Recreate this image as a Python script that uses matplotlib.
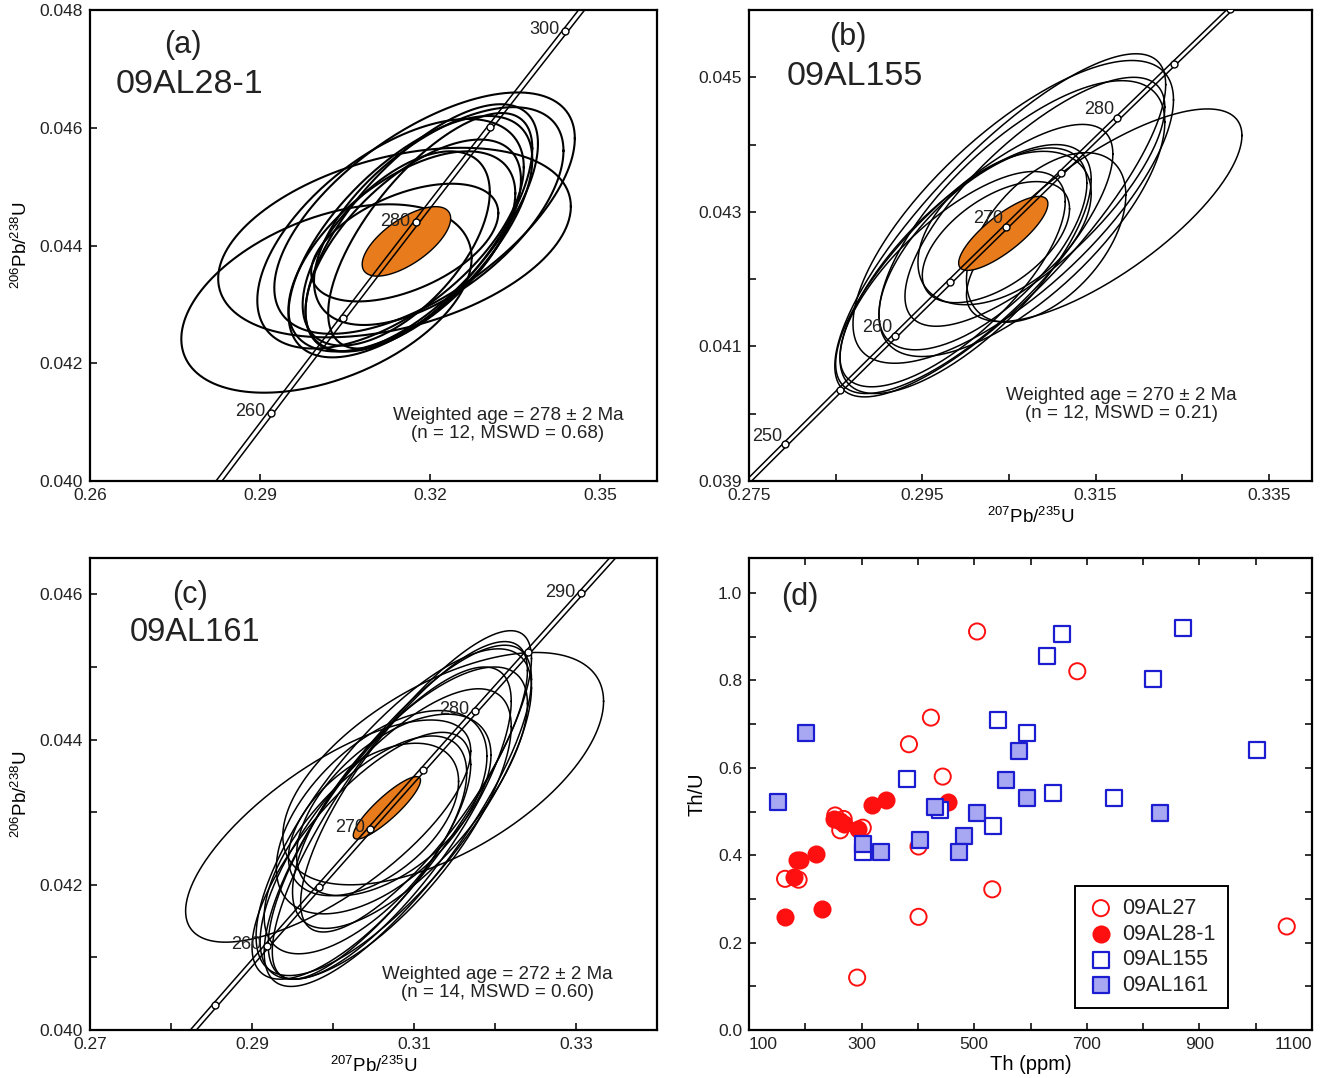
import matplotlib
matplotlib.use('Agg')
import matplotlib.pyplot as plt
import matplotlib.transforms as mtransforms
import numpy as np

plt.rcParams['font.family'] = ['Liberation Sans', 'DejaVu Sans']
plt.rcParams['mathtext.default'] = 'regular'
plt.rcParams['text.color'] = '#222222'
plt.rcParams['xtick.color'] = '#222222'
plt.rcParams['ytick.color'] = '#222222'

# 衰変定数 (1/yr)
LAMBDA_238 = 1.55125e-10
LAMBDA_235 = 9.8485e-10

# --- (a) 09AL28-1 ---  中心, x半幅, y半幅, 相関係数
a_x = [0.3017, 0.3137, 0.3190, 0.3130, 0.3165, 0.3185, 0.3170, 0.3200, 0.3150, 0.3215, 0.3140, 0.3155]
a_y = [0.04310, 0.04405, 0.04455, 0.04420, 0.04415, 0.04430, 0.04400, 0.04425, 0.04390, 0.04450, 0.04395, 0.04405]
a_sx = [0.0256, 0.0311, 0.0265, 0.0235, 0.0215, 0.0205, 0.0190, 0.0180, 0.0200, 0.0220, 0.0165, 0.0165]
a_sy = [0.00160, 0.00161, 0.00205, 0.00195, 0.00205, 0.00210, 0.00180, 0.00200, 0.00170, 0.00185, 0.00165, 0.00100]
a_rho = [0.43, 0.38, 0.62, 0.58, 0.64, 0.68, 0.62, 0.70, 0.58, 0.60, 0.58, 0.50]
a_mean = (0.3158, 0.04407, 0.0078, 0.00059, 0.66)

# --- (b) 09AL155 ---
b_x = [0.3160, 0.3040, 0.3055, 0.3065, 0.3010, 0.3000, 0.3093, 0.3020, 0.3045, 0.3080, 0.2985, 0.3035]
b_y = [0.04295, 0.04280, 0.04300, 0.04290, 0.04230, 0.04215, 0.04262, 0.04245, 0.04276, 0.04315, 0.04200, 0.04255]
b_sx = [0.0159, 0.0191, 0.0185, 0.0165, 0.0160, 0.0145, 0.0092, 0.0120, 0.0100, 0.0150, 0.0130, 0.0085]
b_sy = [0.00158, 0.00255, 0.00225, 0.00205, 0.00200, 0.00185, 0.00126, 0.00150, 0.00114, 0.00185, 0.00160, 0.00090]
b_rho = [0.75, 0.82, 0.74, 0.70, 0.78, 0.72, 0.50, 0.65, 0.45, 0.76, 0.72, 0.55]
b_mean = (0.30435, 0.04268, 0.00515, 0.00055, 0.80)

# --- (c) 09AL161 ---
c_x = [0.3136, 0.2994, 0.3080, 0.3075, 0.3085, 0.3070, 0.3060, 0.3050, 0.3095, 0.3065, 0.3100, 0.3040, 0.3075, 0.3035]
c_y = [0.04360, 0.04274, 0.04295, 0.04300, 0.04310, 0.04285, 0.04300, 0.04290, 0.04320, 0.04270, 0.04335, 0.04255, 0.04310, 0.04240]
c_sx = [0.0198, 0.0176, 0.0165, 0.0170, 0.0160, 0.0150, 0.0130, 0.0105, 0.0145, 0.0155, 0.0140, 0.0125, 0.0120, 0.0135]
c_sy = [0.00160, 0.00153, 0.00235, 0.00225, 0.00240, 0.00215, 0.00140, 0.00105, 0.00180, 0.00200, 0.00200, 0.00150, 0.00125, 0.00170]
c_rho = [0.58, 0.72, 0.80, 0.76, 0.84, 0.78, 0.55, 0.50, 0.72, 0.74, 0.80, 0.66, 0.55, 0.74]
c_mean = (0.30665, 0.04306, 0.00415, 0.00043, 0.88)

# --- (d) Th vs Th/U ---
th_27 = [505, 683, 423, 384, 444, 253, 268, 262, 302, 164, 188, 401, 401, 292, 532, 1055]
thu_27 = [0.912, 0.821, 0.715, 0.654, 0.580, 0.491, 0.483, 0.457, 0.463, 0.346, 0.344, 0.420, 0.259, 0.120, 0.322, 0.237]
th_28 = [164, 229, 219, 185, 191, 179, 250, 262, 269, 294, 318, 343, 453]
thu_28 = [0.259, 0.278, 0.403, 0.388, 0.388, 0.350, 0.483, 0.478, 0.472, 0.460, 0.516, 0.527, 0.521]
th_155 = [871, 655, 629, 817, 543, 593, 1002, 381, 640, 749, 534, 439, 302]
thu_155 = [0.920, 0.906, 0.855, 0.803, 0.710, 0.680, 0.641, 0.575, 0.542, 0.532, 0.466, 0.504, 0.407]
th_161 = [201, 152, 580, 556, 593, 830, 302, 334, 403, 430, 504, 482, 473]
thu_161 = [0.680, 0.521, 0.638, 0.573, 0.532, 0.497, 0.425, 0.407, 0.434, 0.511, 0.497, 0.445, 0.407]

ORANGE = '#E87B1B'
RED = '#FF1010'
BLUE = '#1C1CD0'
LIGHT_BLUE = '#A8A8F2'


def concordia(t_ma):
    t = np.asarray(t_ma, dtype=float) * 1e6
    return np.exp(LAMBDA_235 * t) - 1, np.exp(LAMBDA_238 * t) - 1


def ellipse_xy(cx, cy, sx, sy, rho, n=300):
    t = np.linspace(0, 2 * np.pi, n)
    x = cx + sx * np.cos(t)
    y = cy + sy * (rho * np.cos(t) + np.sqrt(1 - rho ** 2) * np.sin(t))
    return x, y


def draw_concordia(fig, ax, marks, labels, lab_off=(-4, 1)):
    ages = np.linspace(150, 400, 600)
    cx, cy = concordia(ages)
    # 誤差帯は平行な2本線で描く
    for dx in (-2.2, 2.2):
        tr = mtransforms.offset_copy(ax.transData, fig=fig, x=dx, y=0, units='points')
        ax.plot(cx, cy, transform=tr, color='k', lw=1.1, zorder=5)
    mx, my = concordia(marks)
    ax.plot(mx, my, 'o', ms=5, mfc='white', mec='k', mew=1.0, zorder=6)
    for t in labels:
        x, y = concordia(t)
        ax.annotate(str(t), (x, y), xytext=lab_off, textcoords='offset points',
                    ha='right', va='center', fontsize=13, zorder=7, annotation_clip=True)


def draw_ellipses(ax, xs, ys, sxs, sys_, rhos, mean, lw):
    for cx, cy, sx, sy, r in zip(xs, ys, sxs, sys_, rhos):
        ex, ey = ellipse_xy(cx, cy, sx, sy, r)
        ax.plot(ex, ey, color='k', lw=lw, zorder=3)
    ex, ey = ellipse_xy(*mean)
    ax.fill(ex, ey, facecolor=ORANGE, edgecolor='k', lw=1.0, zorder=4)


def style_axes(ax):
    for s in ax.spines.values():
        s.set_linewidth(1.6)
    ax.tick_params(which='both', direction='in', length=5, width=1.3, labelsize=12.5, pad=5)


fig = plt.figure(figsize=(13.22, 10.78), dpi=100)
ax_a = fig.add_axes([0.0681, 0.5538, 0.4289, 0.4369])
ax_b = fig.add_axes([0.5666, 0.5538, 0.4259, 0.4369])
ax_c = fig.add_axes([0.0681, 0.0445, 0.4289, 0.4378])
ax_d = fig.add_axes([0.5666, 0.0445, 0.4259, 0.4378])

ylab = r'$^{206}$Pb/$^{238}$U'
xlab = r'$^{207}$Pb/$^{235}$U'

# (a)
draw_ellipses(ax_a, a_x, a_y, a_sx, a_sy, a_rho, a_mean, lw=1.5)
draw_concordia(fig, ax_a, [250, 260, 270, 280, 290, 300, 310], [260, 280, 300])
ax_a.set_xlim(0.26, 0.36)
ax_a.set_ylim(0.040, 0.048)
ax_a.set_xticks([0.26, 0.29, 0.32, 0.35])
ax_a.set_xticklabels(['0.26', '0.29', '0.32', '0.35'])
ax_a.set_yticks([0.040, 0.042, 0.044, 0.046, 0.048])
ax_a.set_yticklabels(['0.040', '0.042', '0.044', '0.046', '0.048'])
ax_a.set_ylabel(ylab, fontsize=13.5, labelpad=6)
ax_a.text(0.164, 0.926, '(a)', transform=ax_a.transAxes, fontsize=22, ha='center', va='center')
ax_a.text(0.176, 0.841, '09AL28-1', transform=ax_a.transAxes, fontsize=24.5, ha='center', va='center')
ax_a.text(0.737, 0.12, 'Weighted age = 278 ± 2 Ma\n(n = 12, MSWD = 0.68)', transform=ax_a.transAxes,
          fontsize=13.5, ha='center', va='center', linespacing=1.1)
style_axes(ax_a)

# (b)
draw_ellipses(ax_b, b_x, b_y, b_sx, b_sy, b_rho, b_mean, lw=1.1)
draw_concordia(fig, ax_b, np.arange(240, 300, 5), [250, 260, 270, 280], lab_off=(-2, 6))
ax_b.set_xlim(0.275, 0.340)
ax_b.set_ylim(0.039, 0.046)
ax_b.set_xticks([0.275, 0.295, 0.315, 0.335])
ax_b.set_xticklabels(['0.275', '0.295', '0.315', '0.335'])
ax_b.set_xticks([0.285, 0.305, 0.325], minor=True)
ax_b.set_yticks([0.039, 0.041, 0.043, 0.045])
ax_b.set_yticklabels(['0.039', '0.041', '0.043', '0.045'])
ax_b.set_yticks([0.040, 0.042, 0.044], minor=True)
ax_b.set_xlabel(xlab, fontsize=13.5, labelpad=3)
ax_b.text(0.176, 0.943, '(b)', transform=ax_b.transAxes, fontsize=22, ha='center', va='center')
ax_b.text(0.188, 0.858, '09AL155', transform=ax_b.transAxes, fontsize=24.5, ha='center', va='center')
ax_b.text(0.661, 0.162, 'Weighted age = 270 ± 2 Ma\n(n = 12, MSWD = 0.21)', transform=ax_b.transAxes,
          fontsize=13.5, ha='center', va='center', linespacing=1.1)
style_axes(ax_b)

# (c)
draw_ellipses(ax_c, c_x, c_y, c_sx, c_sy, c_rho, c_mean, lw=1.1)
draw_concordia(fig, ax_c, np.arange(245, 305, 5), [260, 270, 280, 290])
ax_c.set_xlim(0.27, 0.34)
ax_c.set_ylim(0.040, 0.0465)
ax_c.set_xticks([0.27, 0.29, 0.31, 0.33])
ax_c.set_xticklabels(['0.27', '0.29', '0.31', '0.33'])
ax_c.set_xticks([0.28, 0.30, 0.32], minor=True)
ax_c.set_yticks([0.040, 0.042, 0.044, 0.046])
ax_c.set_yticklabels(['0.040', '0.042', '0.044', '0.046'])
ax_c.set_yticks([0.041, 0.043, 0.045], minor=True)
ax_c.set_xlabel(xlab, fontsize=13.5, labelpad=3)
ax_c.set_ylabel(ylab, fontsize=13.5, labelpad=6)
ax_c.text(0.176, 0.922, '(c)', transform=ax_c.transAxes, fontsize=22, ha='center', va='center')
ax_c.text(0.185, 0.843, '09AL161', transform=ax_c.transAxes, fontsize=23.5, ha='center', va='center')
ax_c.text(0.718, 0.098, 'Weighted age = 272 ± 2 Ma\n(n = 14, MSWD = 0.60)', transform=ax_c.transAxes,
          fontsize=13.5, ha='center', va='center', linespacing=1.1)
style_axes(ax_c)

# (d)
ax_d.scatter(th_27, thu_27, s=135, marker='o', facecolors='none', edgecolors=RED, linewidths=1.4,
             label='09AL27', zorder=3)
ax_d.scatter(th_28, thu_28, s=135, marker='o', facecolors=RED, edgecolors=RED, linewidths=1.4,
             label='09AL28-1', zorder=3)
ax_d.scatter(th_155, thu_155, s=125, marker='s', facecolors='white', edgecolors=BLUE, linewidths=1.6,
             label='09AL155', zorder=3)
ax_d.scatter(th_161, thu_161, s=125, marker='s', facecolors=LIGHT_BLUE, edgecolors=BLUE, linewidths=1.6,
             label='09AL161', zorder=3)
ax_d.set_xlim(100, 1100)
ax_d.set_ylim(0, 1.08)
ax_d.set_xticks(np.arange(100, 1101, 200))
ax_d.set_xticks(np.arange(200, 1100, 200), minor=True)
ax_d.set_yticks(np.arange(0, 1.01, 0.2))
ax_d.set_yticklabels(['0.0', '0.2', '0.4', '0.6', '0.8', '1.0'])
ax_d.set_yticks(np.arange(0.1, 1.0, 0.2), minor=True)
ax_d.set_xlabel('Th (ppm)', fontsize=14.5, labelpad=2)
ax_d.set_ylabel('Th/U', fontsize=14.5, labelpad=8)
ax_d.text(0.091, 0.917, '(d)', transform=ax_d.transAxes, fontsize=22, ha='center', va='center')
leg = ax_d.legend(loc='lower left', bbox_to_anchor=(0.579, 0.047), fontsize=15.5, fancybox=False,
                  edgecolor='k', framealpha=1, borderpad=0.55, handletextpad=0.35, labelspacing=0.22,
                  borderaxespad=0, handlelength=1.3)
leg.get_frame().set_linewidth(1.4)
style_axes(ax_d)
ax_d.tick_params(which='both', top=True, right=True)
# 端の目盛ラベルは枠内に寄せる
xt = ax_d.get_xticklabels()
xt[0].set_horizontalalignment('left')
xt[-1].set_horizontalalignment('right')

fig.savefig('out.png', dpi=100)
plt.close(fig)
